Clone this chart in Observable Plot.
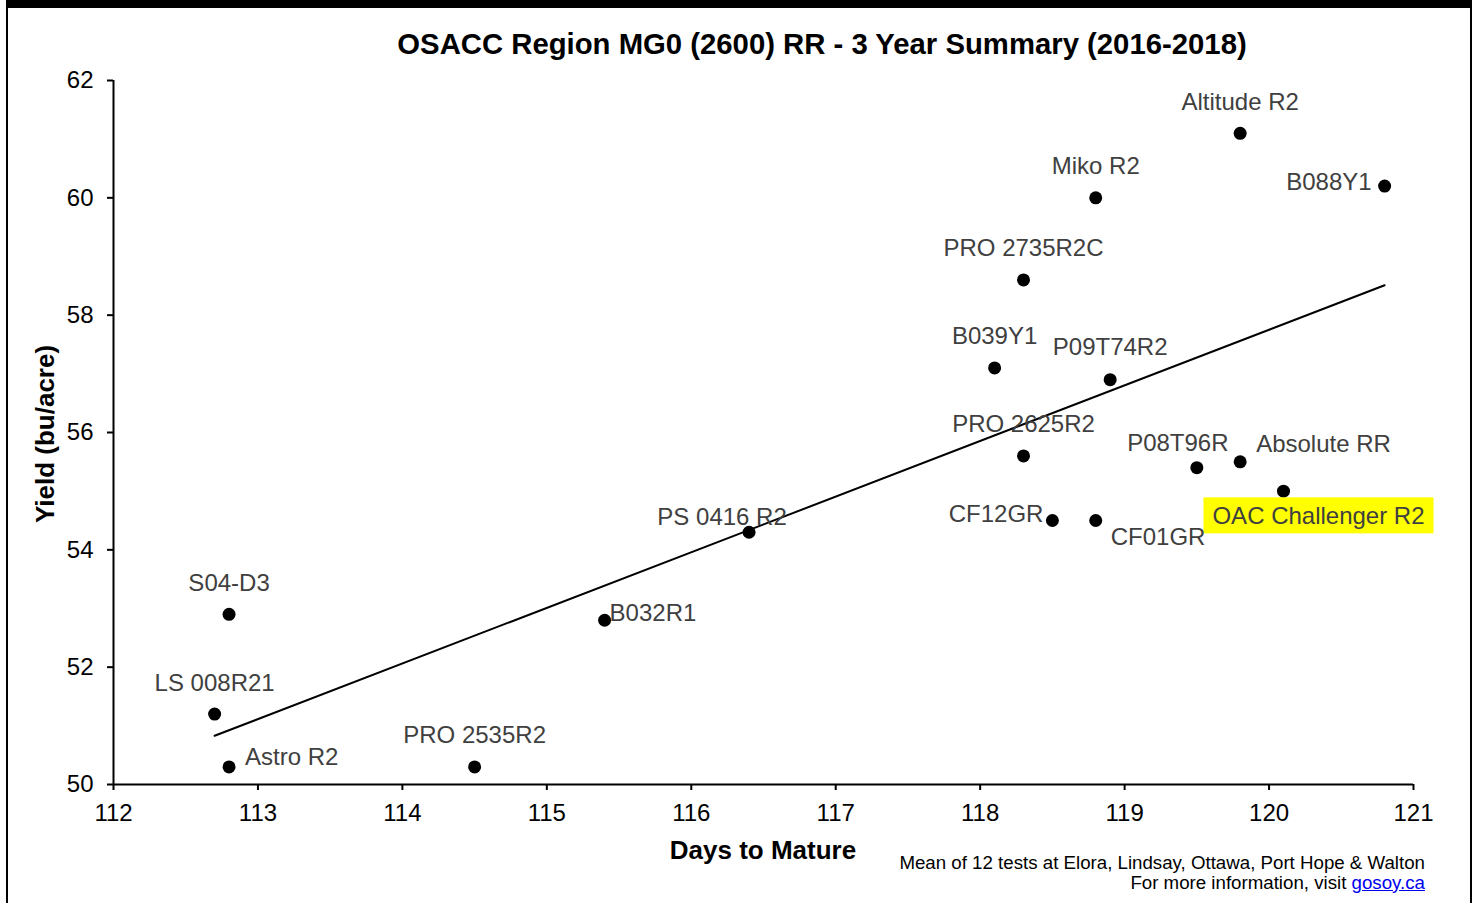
<!DOCTYPE html>
<html>
<head>
<meta charset="utf-8">
<script src="https://cdn.jsdelivr.net/npm/d3@7"></script>
<script src="https://cdn.jsdelivr.net/npm/@observablehq/plot@0.6"></script>
<style>
  html, body { margin: 0; padding: 0; background: #fff; }
  #wrap { position: relative; width: 1478px; height: 903px; overflow: hidden; font-family: Arial, "Liberation Sans", sans-serif; }
  #frame { position: absolute; left: 6px; top: 0; width: 1466px; height: 920px; border-left: 2px solid #000; border-right: 2px solid #000; border-top: 8px solid #000; box-sizing: border-box; }
  .ov { position: absolute; white-space: nowrap; line-height: 1; color: #000; }
  #chart { position: absolute; left: 0; top: 0; }
  a { color: #0000ee; }
</style>
</head>
<body>
<div id="wrap">
  <div id="frame"></div>
  <div id="chart"></div>
  <div class="ov" id="title" style="left:822px; top:28.5px; transform:translateX(-50%); font-size:29.3px; font-weight:bold;">OSACC Region MG0 (2600) RR - 3 Year Summary (2016-2018)</div>
  <div class="ov" style="left:45px; top:434px; transform:translate(-50%,-50%) rotate(-90deg); font-size:26px; font-weight:bold;">Yield (bu/acre)</div>
  <div class="ov" style="left:763px; top:837px; transform:translateX(-50%); font-size:26px; font-weight:bold;">Days to Mature</div>
  <div class="ov" style="right:53px; top:854px; font-size:18.7px; text-align:right;">Mean of 12 tests at Elora, Lindsay, Ottawa, Port Hope &amp; Walton</div>
  <div class="ov" style="right:53px; top:874px; font-size:18.7px; text-align:right;">For more information, visit <a href="#">gosoy.ca</a></div>
</div>
<script>
// ---- data ----
const varieties = ["Altitude R2", "Miko R2", "B088Y1", "PRO 2735R2C", "B039Y1", "P09T74R2", "PRO 2625R2", "P08T96R", "Absolute RR", "OAC Challenger R2", "CF12GR", "CF01GR", "PS 0416 R2", "B032R1", "S04-D3", "LS 008R21", "Astro R2", "PRO 2535R2"];
const daysToMature = [119.8, 118.8, 120.8, 118.3, 118.1, 118.9, 118.3, 119.5, 119.8, 120.1, 118.5, 118.8, 116.4, 115.4, 112.8, 112.7, 112.8, 114.5];
const yieldBuAcre = [61.1, 60.0, 60.2, 58.6, 57.1, 56.9, 55.6, 55.4, 55.5, 55.0, 54.5, 54.5, 54.3, 52.8, 52.9, 51.2, 50.3, 50.3];
const xTicks = [112, 113, 114, 115, 116, 117, 118, 119, 120, 121];
const yTicks = [50, 52, 54, 56, 58, 60, 62];
const highlighted = ["OAC Challenger R2"];

// ---- label placement (style, in px relative to the point) ----
const labelPlacement = {
  "Altitude R2":       {anchor: "middle", dx: 0,   dy: -31},
  "Miko R2":           {anchor: "middle", dx: 0,   dy: -32},
  "B088Y1":            {anchor: "end",    dx: -13, dy: -4},
  "PRO 2735R2C":       {anchor: "middle", dx: 0,   dy: -32},
  "B039Y1":            {anchor: "middle", dx: 0,   dy: -32},
  "P09T74R2":          {anchor: "middle", dx: 0,   dy: -32},
  "PRO 2625R2":        {anchor: "middle", dx: 0,   dy: -32},
  "P08T96R":           {anchor: "middle", dx: -19, dy: -24},
  "Absolute RR":       {anchor: "start",  dx: 16,  dy: -18},
  "OAC Challenger R2": {anchor: "middle", dx: 35,  dy: 25},
  "CF12GR":            {anchor: "end",    dx: -9,  dy: -6},
  "CF01GR":            {anchor: "start",  dx: 15,  dy: 17},
  "PS 0416 R2":        {anchor: "middle", dx: -27, dy: -15},
  "B032R1":            {anchor: "start",  dx: 5,   dy: -7},
  "S04-D3":            {anchor: "middle", dx: 0,   dy: -31},
  "LS 008R21":         {anchor: "middle", dx: 0,   dy: -31},
  "Astro R2":          {anchor: "start",  dx: 16,  dy: -10},
  "PRO 2535R2":        {anchor: "middle", dx: 0,   dy: -32}
};

const rows = varieties.map((name, i) => ({name, days: daysToMature[i], yield: yieldBuAcre[i]}));

const labelMarks = rows.map(r => {
  const p = labelPlacement[r.name];
  return Plot.text([r], {
    x: "days", y: "yield", text: "name",
    textAnchor: p.anchor, lineAnchor: "middle", dx: p.dx, dy: p.dy,
    fill: "#404040", fontSize: 24,
    className: highlighted.includes(r.name) ? "hl" : undefined
  });
});

const chart = Plot.plot({
  width: 1478,
  height: 903,
  marginLeft: 113,
  marginRight: 65,
  marginTop: 80,
  marginBottom: 119,
  style: {fontFamily: "Arial, 'Liberation Sans', sans-serif", color: "#000", background: "transparent", overflow: "visible"},
  x: {domain: [112, 121]},
  y: {domain: [50, 62]},
  marks: [
    Plot.axisX({ticks: xTicks, tickSize: 6, tickPadding: 13, fontSize: 24, label: null, strokeWidth: 2, tickFormat: d => String(d)}),
    Plot.axisY({ticks: yTicks, tickSize: 6, tickPadding: 14, fontSize: 24, label: null, strokeWidth: 2, tickFormat: d => String(d)}),
    Plot.ruleX([112], {stroke: "#000", strokeWidth: 2}),
    Plot.ruleY([50], {stroke: "#000", strokeWidth: 2}),
    Plot.linearRegressionY(rows, {x: "days", y: "yield", ci: 0, stroke: "#000", strokeWidth: 2}),
    Plot.dot(rows, {x: "days", y: "yield", r: 6.5, fill: "#000", stroke: "none"}),
    ...labelMarks
  ]
});

document.getElementById("chart").appendChild(chart);

// yellow highlight box behind highlighted labels (same local coordinates as the text)
d3.select(chart).selectAll("g.hl text").each(function() {
  const bb = this.getBBox();
  const padX = 9, padY = 4.5;
  const rect = d3.select(this.parentNode).insert("rect", () => this)
    .attr("x", bb.x - padX).attr("y", bb.y - padY)
    .attr("width", bb.width + 2 * padX).attr("height", bb.height + 2 * padY)
    .attr("fill", "#ffff00");
  const tr = this.getAttribute("transform");
  if (tr) rect.attr("transform", tr);
});
</script>
</body>
</html>
